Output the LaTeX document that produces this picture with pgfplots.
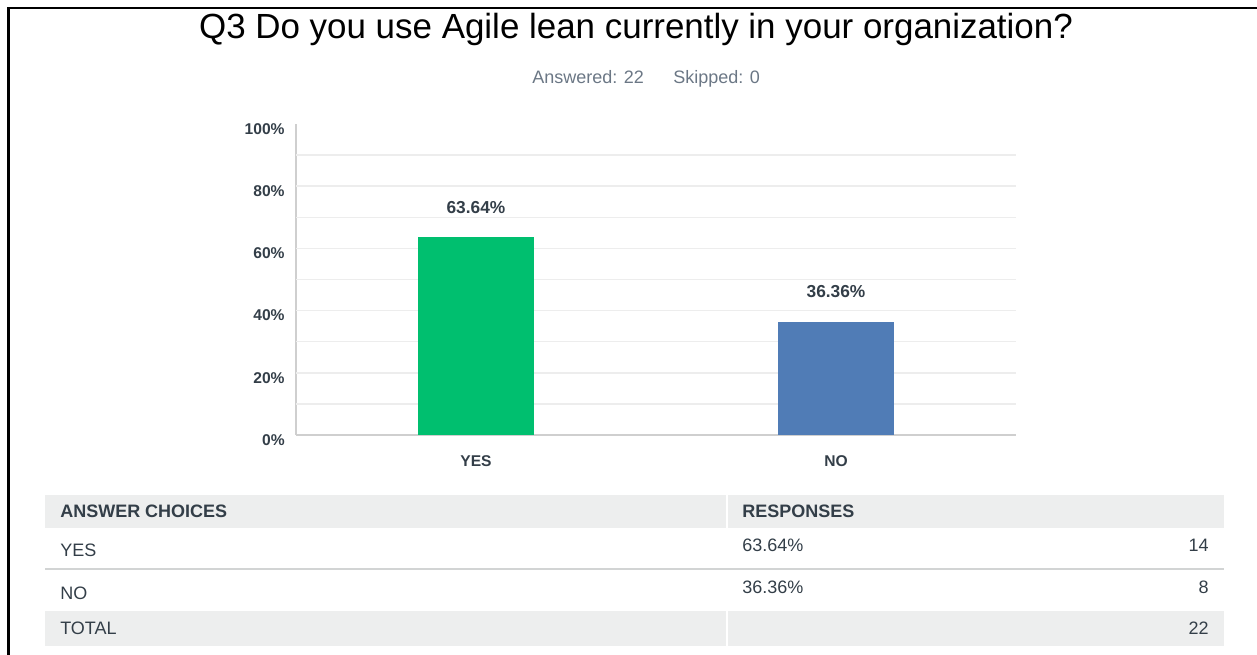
\documentclass[border=0pt]{standalone}
\usepackage{pgfplots}
\pgfplotsset{compat=1.18}
\usepackage{fontspec}
\setmainfont{Liberation Sans}
\definecolor{txt}{HTML}{333E48}
\definecolor{subtxt}{HTML}{6B7785}
\definecolor{band}{HTML}{EDEEEE}
\definecolor{sep}{HTML}{D2D4D4}
\definecolor{gridc}{HTML}{EDEDED}
\definecolor{axc}{HTML}{CFCFCF}
\definecolor{smgreen}{HTML}{00BF6F}
\definecolor{smblue}{HTML}{507CB6}
\begin{document}
\begin{tikzpicture}
\useasboundingbox (0,0) rectangle (942.75pt,-491.25pt);
\begin{scope}[x=0.75pt,y=-0.75pt]
% border
\draw[line width=1.875pt,black] (8.7,655) -- (8.7,8) -- (1257,8);
% title
\node[anchor=base,inner sep=0pt,font=\fontsize{26.2}{30}\selectfont,text=black] at (636,39) {Q3 Do you use Agile lean currently in your organization?};
\node[anchor=base west,inner sep=0pt,font=\fontsize{13.5}{16}\selectfont,text=subtxt] at (532,84) {Answered: 22};
\node[anchor=base west,inner sep=0pt,font=\fontsize{13.5}{16}\selectfont,text=subtxt] at (673,84) {Skipped: 0};
% table
\fill[band] (45,495) rectangle (726,528);
\fill[band] (728,495) rectangle (1224,528);
\fill[band] (45,611) rectangle (726,646);
\fill[band] (728,611) rectangle (1224,646);
\draw[sep,line width=1.5pt] (45,569.5) -- (1224,569.5);
\begin{scope}[every node/.style={inner sep=0pt,font=\fontsize{13.5}{16}\selectfont,text=txt}]
\node[anchor=base west,font=\bfseries\fontsize{13.5}{16}\selectfont] at (60,517.5) {ANSWER CHOICES};
\node[anchor=base west,font=\bfseries\fontsize{13.5}{16}\selectfont] at (742,517.5) {RESPONSES};
\node[anchor=base west] at (60,556.5) {YES};
\node[anchor=base west] at (742,551.5) {63.64\%};
\node[anchor=base east] at (1209,551.5) {14};
\node[anchor=base west] at (60,599.5) {NO};
\node[anchor=base west] at (742,593.5) {36.36\%};
\node[anchor=base east] at (1209,593.5) {8};
\node[anchor=base west] at (60,634.5) {TOTAL};
\node[anchor=base east] at (1209,634.5) {22};
\end{scope}
\end{scope}
\begin{axis}[
  at={(222pt,-326.25pt)}, anchor=south west,
  scale only axis, width=540pt, height=233.25pt,
  xmin=-0.5, xmax=1.5, ymin=0, ymax=100,
  axis x line*=bottom, axis y line*=left,
  x axis line style={-,draw=axc,line width=1.2pt},
  y axis line style={-,draw=axc,line width=1.2pt},
  major tick length=0pt,
  xtick={0,1}, xticklabels={YES,NO},
  ytick={0,20,40,60,80,100},
  yticklabels={0\%,20\%,40\%,60\%,80\%,100\%},
  extra y ticks={10,20,30,40,50,60,70,80,90},
  extra y tick labels={},
  extra y tick style={grid=major, major grid style={draw=gridc,line width=1.1pt}},
  ticklabel style={font=\bfseries\fontsize{11.7}{13}\selectfont, text=txt},
  yticklabel style={xshift=-5pt,yshift=-3.75pt},
  xticklabel style={yshift=-11.6pt},
  ybar, bar width=87pt, bar shift=0pt,
  point meta=explicit symbolic,
  nodes near coords,
  every node near coord/.append style={font=\bfseries\fontsize{13}{15}\selectfont, text=txt, anchor=base, yshift=18pt},
  clip=false,
]
\addplot[fill=smgreen,draw=none] coordinates {(0,63.64) [63.64\%]};
\addplot[fill=smblue,draw=none] coordinates {(1,36.36) [36.36\%]};
\end{axis}
\end{tikzpicture}
\end{document}
